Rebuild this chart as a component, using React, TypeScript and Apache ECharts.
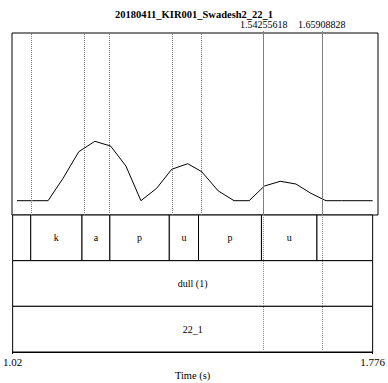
import React, { useEffect, useRef } from "react";
import * as echarts from "echarts";

const chartTitle = "20180411_KIR001_Swadesh2_22_1";
const timeMin = 1.02;
const timeMax = 1.776;
const xTickValues = [1.02, 1.776];
const xTickLabels = ["1.02", "1.776"];
const axisName = "Time (s)";

const pitchTimes = [
  1.0303, 1.0624, 1.0945, 1.1255, 1.158, 1.1911, 1.2236, 1.2553, 1.2863, 1.3188, 1.3498, 1.3829,
  1.4119, 1.4462, 1.4787, 1.5098, 1.5415, 1.574, 1.6065, 1.6374, 1.6685, 1.7005, 1.7326, 1.7649,
];
const pitchValues = [
  14.3, 14.3, 14.3, 36.7, 63.3, 73.7, 69, 49, 14.3, 26.7, 45.7, 51.3,
  43.3, 24, 14.3, 14.3, 29, 33.7, 31, 21.7, 14.3, 14.3, 14.3, 14.3,
];

const phoneBounds = [1.02, 1.058, 1.1657, 1.2242, 1.349, 1.4104, 1.54255618, 1.65908828, 1.776];
const phoneLabels = ["", "k", "a", "p", "u", "p", "u", ""];
const wordLabels = ["dull (1)"];
const utteranceLabels = ["22_1"];
const markedTimes = [1.54255618, 1.65908828];
const markedLabels = ["1.54255618", "1.65908828"];

const FONT = "Liberation Serif";

export default function App() {
  const ref = useRef<HTMLDivElement>(null);
  useEffect(() => {
    if (!ref.current) return;
    const chart = echarts.init(ref.current, undefined, { renderer: "svg" });

    const intervals: [number, number, number, string][] = [];
    for (let i = 0; i < phoneLabels.length; i++) {
      intervals.push([0, phoneBounds[i], phoneBounds[i + 1], phoneLabels[i]]);
    }
    intervals.push([1, timeMin, timeMax, wordLabels[0]]);
    intervals.push([2, timeMin, timeMax, utteranceLabels[0]]);

    const boundaryLines = phoneBounds.slice(1, -1).map((t) => ({ xAxis: t }));

    const L = 12;
    const R = 10;
    const option: any = {
      animation: false,
      backgroundColor: "#fff",
      textStyle: { fontFamily: FONT },
      title: {
        text: chartTitle,
        left: "center",
        top: 4,
        textStyle: { fontFamily: FONT, fontWeight: "bold", fontSize: 10.5, color: "#000" },
      },
      grid: [
        { left: L, right: R, top: 33, height: 182, show: true, borderColor: "#000", borderWidth: 1, backgroundColor: "transparent" },
        { left: L, right: R, top: 215, height: 137 },
        { left: L, right: R, top: 31, height: 321 },
      ],
      xAxis: [
        { gridIndex: 0, type: "value", min: timeMin, max: timeMax, show: false },
        {
          gridIndex: 1,
          type: "value",
          min: timeMin,
          max: timeMax,
          axisLine: { show: true, onZero: false, lineStyle: { color: "#000", width: 1 } },
          axisTick: { show: true, customValues: xTickValues, length: 2, lineStyle: { color: "#000" } },
          axisLabel: {
            customValues: xTickValues,
            formatter: (v: number) => {
              let best = 0;
              xTickValues.forEach((tv, i) => {
                if (Math.abs(tv - v) < Math.abs(xTickValues[best] - v)) best = i;
              });
              return xTickLabels[best];
            },
            fontFamily: FONT,
            fontSize: 11,
            color: "#000",
            margin: 4,
          },
          splitLine: { show: false },
          name: axisName,
          nameLocation: "middle",
          nameGap: 18,
          nameTextStyle: { fontFamily: FONT, fontSize: 10.5, color: "#000" },
        },
        { gridIndex: 2, type: "value", min: timeMin, max: timeMax, show: false },
      ],
      yAxis: [
        { gridIndex: 0, type: "value", min: 0, max: 182, show: false },
        { gridIndex: 1, type: "value", min: 0, max: 3, inverse: true, show: false },
        { gridIndex: 2, type: "value", min: 0, max: 1, show: false },
      ],
      series: [
        {
          type: "line",
          xAxisIndex: 0,
          yAxisIndex: 0,
          data: pitchTimes.map((t, i) => [t, pitchValues[i]]),
          symbol: "none",
          lineStyle: { color: "#000", width: 1 },
          z: 4,
          markLine: {
            silent: true,
            symbol: "none",
            label: { show: false },
            lineStyle: { color: "#777", type: [1, 1], width: 1 },
            data: boundaryLines,
          },
        },
        {
          type: "custom",
          xAxisIndex: 1,
          yAxisIndex: 1,
          data: intervals.map((d) => [d[0], d[1], d[2]]),
          encode: { x: [1, 2], y: 0 },
          z: 3,
          renderItem: (params: any, api: any) => {
            const tier = api.value(0);
            const s = api.value(1);
            const e = api.value(2);
            const a = api.coord([s, tier]);
            const b = api.coord([e, tier + 1]);
            const label = intervals[params.dataIndex][3];
            return {
              type: "group",
              children: [
                {
                  type: "rect",
                  shape: { x: a[0], y: a[1], width: b[0] - a[0], height: b[1] - a[1] },
                  style: { fill: "#fff", stroke: "#000", lineWidth: 1 },
                },
                {
                  type: "text",
                  x: (a[0] + b[0]) / 2,
                  y: (a[1] + b[1]) / 2,
                  style: {
                    text: label,
                    fill: "#000",
                    fontFamily: FONT,
                    fontSize: 10,
                    align: "center",
                    verticalAlign: "middle",
                  },
                },
              ],
            };
          },
        },
        {
          type: "scatter",
          xAxisIndex: 2,
          yAxisIndex: 2,
          data: [[timeMin, 0]],
          symbolSize: 0,
          silent: true,
          z: 6,
          markLine: {
            silent: true,
            symbol: "none",
            lineStyle: { color: "#888", type: [1, 1], width: 1 },
            label: {
              show: true,
              position: "end",
              distance: 2,
              fontFamily: FONT,
              fontSize: 10,
              color: "#000",
              formatter: (p: any) => markedLabels[p.dataIndex] ?? "",
            },
            data: markedTimes.map((t) => ({ xAxis: t })),
          },
        },
      ],
    };
    chart.setOption(option);
    return () => chart.dispose();
  }, []);
  return <div ref={ref} style={{ position: "fixed", left: 0, top: 0, width: 388, height: 383 }} />;
}
